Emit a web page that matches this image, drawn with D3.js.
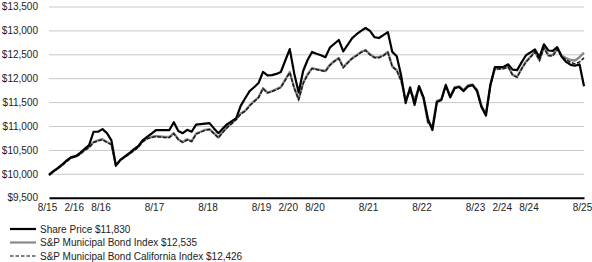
<!DOCTYPE html>
<html>
<head>
<meta charset="utf-8">
<script src="https://cdn.jsdelivr.net/npm/d3@7"></script>
<style>
  body { margin: 0; background: #fff; }
  svg { display: block; font-family: "Liberation Sans", Arial, sans-serif; }
</style>
</head>
<body>
<svg id="chart"></svg>
<script>
// month index 0 = 8/15 ... 120 = 8/25
const TICK_MONTHS = [0, 6, 12, 24, 36, 48, 54, 60, 72, 84, 96, 102, 108, 120];
const TICK_LABELS = ["8/15", "2/16", "8/16", "8/17", "8/18", "8/19", "2/20", "8/20", "8/21", "8/22", "8/23", "2/24", "8/24", "8/25"];
const Y_TICKS = [9500, 10000, 10500, 11000, 11500, 12000, 12500, 13000, 13500];

const sharePrice = [
  9970, 10050, 10120, 10200, 10280, 10350, 10370, 10440, 10520, 10600, 10880, 10880, 10935, 10850, 10700, 10170,
  10290, 10360, 10430, 10510, 10580, 10700, 10770, 10840, 10915, 10915, 10915, 10915, 11080, 10895, 10850, 10920, 10880,
  11030, 11040, 11050, 11060, 10950, 10850, 10950, 11040, 11100, 11165, 11420, 11580, 11730, 11810, 11900, 12130, 12060,
  12065, 12090, 12130, 12370, 12610, 12100, 11700, 12150, 12380, 12550, 12510, 12480, 12440, 12640, 12720, 12800, 12560, 12700, 12840, 12920,
  12990, 13050, 12990, 12860, 12840, 12900, 12965, 12550, 12460, 12050, 11480, 11810, 11440, 11835,
  11600, 11150, 10915, 11500, 11545, 11850, 11600, 11790, 11815, 11730, 11830, 11855, 11730, 11400, 11220, 11850, 12230, 12230, 12240, 12290,
  12180, 12170, 12330, 12480, 12540, 12600, 12440, 12710, 12580, 12570, 12650, 12450, 12340, 12280, 12260, 12290, 11830
];

const muniIndex = [
  9990, 10060, 10120, 10190, 10270, 10340, 10365, 10420, 10500, 10560, 10665, 10700, 10725, 10665, 10620, 10180,
  10290, 10360, 10420, 10490, 10560, 10680, 10740, 10770, 10790, 10780, 10770, 10770, 10850, 10725, 10665, 10720, 10685,
  10840, 10880, 10920, 10935, 10850, 10760, 10880, 10980, 11060, 11145, 11260, 11320, 11430, 11520, 11600, 11790, 11700,
  11730, 11770, 11815, 11970, 12130, 11800, 11560, 11900, 12080, 12210, 12190, 12170, 12150, 12280, 12360, 12420, 12230, 12330, 12420, 12480,
  12550, 12590, 12500, 12440, 12440, 12480, 12550, 12250, 12170, 11950, 11545, 11750, 11545, 11815,
  11585, 11080, 10980, 11520, 11560, 11860, 11620, 11810, 11830, 11750, 11850, 11870, 11760, 11420, 11250, 11870, 12200, 12200, 12210, 12240,
  12070, 12030, 12200, 12350, 12450, 12560, 12380, 12650, 12490, 12485, 12620, 12470, 12420, 12380, 12370, 12440, 12535
];

const caIndex = [
  9985, 10050, 10110, 10180, 10260, 10330, 10355, 10410, 10490, 10550, 10655, 10690, 10715, 10655, 10610, 10170,
  10280, 10350, 10410, 10480, 10550, 10670, 10730, 10760, 10780, 10770, 10760, 10760, 10840, 10715, 10655, 10710, 10675,
  10830, 10870, 10910, 10925, 10840, 10750, 10870, 10970, 11050, 11135, 11250, 11310, 11420, 11510, 11590, 11780, 11690,
  11720, 11760, 11805, 11960, 12120, 11790, 11550, 11890, 12070, 12200, 12180, 12160, 12140, 12270, 12350, 12410, 12220, 12320, 12410, 12470,
  12540, 12580, 12490, 12430, 12430, 12470, 12540, 12240, 12160, 11940, 11535, 11740, 11535, 11805,
  11575, 11070, 10970, 11510, 11550, 11850, 11610, 11800, 11820, 11740, 11840, 11860, 11750, 11410, 11240, 11860, 12190, 12190, 12200, 12230,
  12060, 12020, 12190, 12340, 12440, 12550, 12370, 12630, 12470, 12465, 12600, 12450, 12390, 12330, 12300, 12340, 12426
];

const legendItems = [
  { label: "Share Price $11,830", color: "#000", width: 2.2, dash: null },
  { label: "S&P Municipal Bond Index $12,535", color: "#8a8a8a", width: 2.2, dash: null },
  { label: "S&P Municipal Bond California Index $12,426", color: "#000", width: 1.2, dash: "3.5,2" },
];

const width = 592;
const height = 262;
const plot = { left: 49, right: 584, top: 6.5, bottom: 197.7 };

const svg = d3.select("#chart").attr("width", width).attr("height", height);

const xscale = d3.scaleLinear().domain([0, 120]).range([plot.left, plot.right]);
const yscale = d3.scaleLinear().domain([9500, 13500]).range([plot.bottom, plot.top]);

// gridlines
svg.append("g")
  .attr("transform", `translate(${plot.left}, 0)`)
  .call(d3.axisLeft(yscale).tickValues(Y_TICKS.slice(1)).tickSize(-(plot.right - plot.left)).tickFormat(""))
  .call((g) => g.select(".domain").remove())
  .call((g) => g.selectAll("line").attr("stroke", "#c8c8c8").attr("stroke-width", 1));

// y labels
const yaxisGroup = svg.append("g")
  .attr("transform", `translate(${plot.left - 11}, 0)`)
  .call(d3.axisLeft(yscale).tickValues(Y_TICKS).tickSize(0).tickPadding(0)
    .tickFormat((d) => "$" + d3.format(",")(d)));
yaxisGroup.select(".domain").remove();
yaxisGroup.selectAll("text").style("font-size", "10px").attr("fill", "#222");

// x axis
const xaxisGroup = svg.append("g")
  .attr("transform", `translate(0, ${plot.bottom})`)
  .call(d3.axisBottom(xscale).tickValues(TICK_MONTHS).tickSize(0).tickPadding(6)
    .tickFormat((d, i) => TICK_LABELS[i]));
xaxisGroup.select(".domain").attr("stroke", "#000").attr("stroke-width", 2);
xaxisGroup.selectAll("text").style("font-size", "10px").attr("fill", "#222").attr("dx", "-2");

const line = d3.line()
  .x((d, i) => xscale(i))
  .y((d) => yscale(d));

svg.append("path")
  .attr("d", line(muniIndex))
  .attr("fill", "none")
  .attr("stroke", "#8a8a8a")
  .attr("stroke-width", 2.4)
  .attr("stroke-linejoin", "round");

svg.append("path")
  .attr("d", line(caIndex))
  .attr("fill", "none")
  .attr("stroke", "#1a1a1a")
  .attr("stroke-width", 1.5)
  .attr("stroke-dasharray", "4,1.5");

svg.append("path")
  .attr("d", line(sharePrice))
  .attr("fill", "none")
  .attr("stroke", "#000")
  .attr("stroke-width", 2.2)
  .attr("stroke-linejoin", "round");

// legend
const legend = svg.append("g").attr("transform", "translate(10, 229)");
legendItems.forEach((item, i) => {
  const g = legend.append("g").attr("transform", `translate(0, ${i * 13.5})`);
  g.append("line")
    .attr("x1", 0).attr("x2", 26).attr("y1", 0).attr("y2", 0)
    .attr("stroke", item.color)
    .attr("stroke-width", item.width)
    .attr("stroke-dasharray", item.dash);
  g.append("text")
    .attr("x", 30).attr("y", 0).attr("dy", "0.35em")
    .style("font-size", "10px")
    .attr("fill", "#222")
    .text(item.label);
});
</script>
</body>
</html>
